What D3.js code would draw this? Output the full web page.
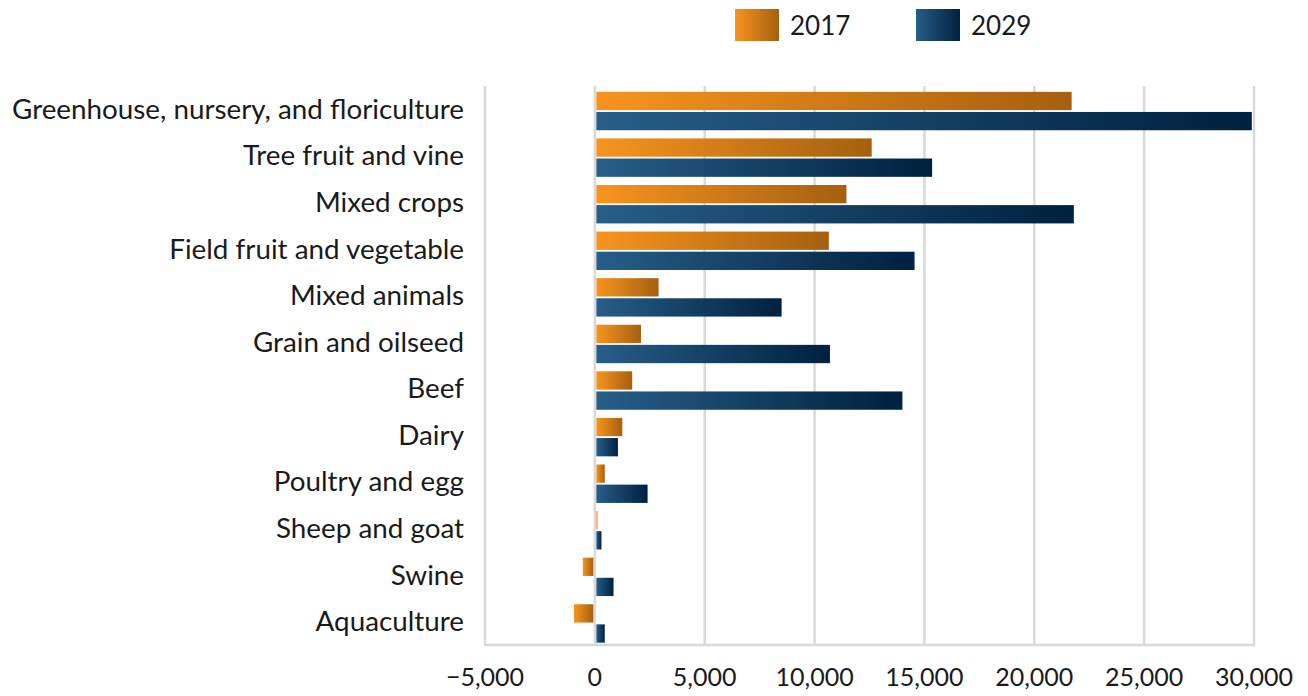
<!DOCTYPE html>
<html>
<head>
<meta charset="utf-8">
<script src="https://cdn.jsdelivr.net/npm/d3@7"></script>
<style>
  html, body { margin: 0; padding: 0; background: #fff; }
  svg { display: block; }
  text { font-family: "Lato", "Noto Sans", sans-serif; fill: #1a1a1a; }
</style>
</head>
<body>
<svg id="chart" width="1308" height="696"></svg>
<script>
const categories = [
  "Greenhouse, nursery, and floriculture",
  "Tree fruit and vine",
  "Mixed crops",
  "Field fruit and vegetable",
  "Mixed animals",
  "Grain and oilseed",
  "Beef",
  "Dairy",
  "Poultry and egg",
  "Sheep and goat",
  "Swine",
  "Aquaculture"
];
const seriesNames = ["2017", "2029"];
const values2017 = [21700, 12600, 11450, 10650, 2900, 2100, 1700, 1250, 450, 100, -550, -950];
const values2029 = [29900, 15350, 21800, 14550, 8500, 10700, 14000, 1050, 2400, 300, 850, 450];
const xTicks = [-5000, 0, 5000, 10000, 15000, 20000, 25000, 30000];

const svg = d3.select("#chart");
const plot = { left: 485, right: 1254, top: 86, bottom: 645 };

const x = d3.scaleLinear().domain([-5000, 30000]).range([plot.left, plot.right]);
const y = d3.scaleBand().domain(categories).range([plot.top, plot.bottom]);
const bw = y.bandwidth();
const ySub = d3.scaleBand().domain(seriesNames).range([0.125 * bw, 0.95 * bw]).paddingInner(0.09);

const defs = svg.append("defs");
const gradStops = {
  "2017": ["#f7941e", "#a5600f"],
  "2029": ["#275e88", "#00213f"]
};
seriesNames.forEach(s => {
  const g = defs.append("linearGradient").attr("id", "grad" + s)
    .attr("x1", "0%").attr("x2", "100%").attr("y1", "0%").attr("y2", "0%");
  g.append("stop").attr("offset", "0%").attr("stop-color", gradStops[s][0]);
  g.append("stop").attr("offset", "100%").attr("stop-color", gradStops[s][1]);
});

// gridlines
svg.append("g").selectAll("line").data(xTicks).join("line")
  .attr("x1", d => x(d)).attr("x2", d => x(d))
  .attr("y1", plot.top).attr("y2", plot.bottom)
  .attr("stroke", "#d9d9d9").attr("stroke-width", 2.5);

// bottom axis line
svg.append("line")
  .attr("x1", plot.left - 1).attr("x2", plot.right + 1)
  .attr("y1", plot.bottom).attr("y2", plot.bottom)
  .attr("stroke", "#d9d9d9").attr("stroke-width", 2.5);

// bars
const data = [];
categories.forEach((c, i) => {
  data.push({ cat: c, s: "2017", v: values2017[i] });
  data.push({ cat: c, s: "2029", v: values2029[i] });
});
const zeroGap = 1.5;
svg.append("g").selectAll("rect").data(data).join("rect")
  .attr("x", d => d.v >= 0 ? x(0) + zeroGap : x(d.v))
  .attr("width", d => Math.max(1, Math.abs(x(d.v) - x(0)) - zeroGap))
  .attr("y", d => y(d.cat) + ySub(d.s))
  .attr("height", ySub.bandwidth())
  .attr("fill", d => "url(#grad" + d.s + ")");

// category labels
svg.append("g").selectAll("text").data(categories).join("text")
  .attr("x", 464)
  .attr("y", d => y(d) + bw / 2 - 1)
  .attr("text-anchor", "end")
  .attr("dominant-baseline", "central")
  .attr("font-size", 27.8)
  .text(d => d);

// x tick labels
const fmt = v => (v < 0 ? "\u2212" : "") + d3.format(",")(Math.abs(v));
svg.append("g").selectAll("text").data(xTicks).join("text")
  .attr("x", d => x(d))
  .attr("y", 686)
  .attr("text-anchor", "middle")
  .attr("font-size", 25)
  .text(d => fmt(d));

// legend
const legend = [
  { s: "2017", x: 735 },
  { s: "2029", x: 916 }
];
const lg = svg.append("g").selectAll("g").data(legend).join("g")
  .attr("transform", d => `translate(${d.x},9)`);
lg.append("rect").attr("width", 44).attr("height", 32)
  .attr("fill", d => "url(#grad" + d.s + ")");
lg.append("text").attr("x", 55).attr("y", 16)
  .attr("dominant-baseline", "central")
  .attr("font-size", 26)
  .text(d => d.s);
</script>
</body>
</html>
